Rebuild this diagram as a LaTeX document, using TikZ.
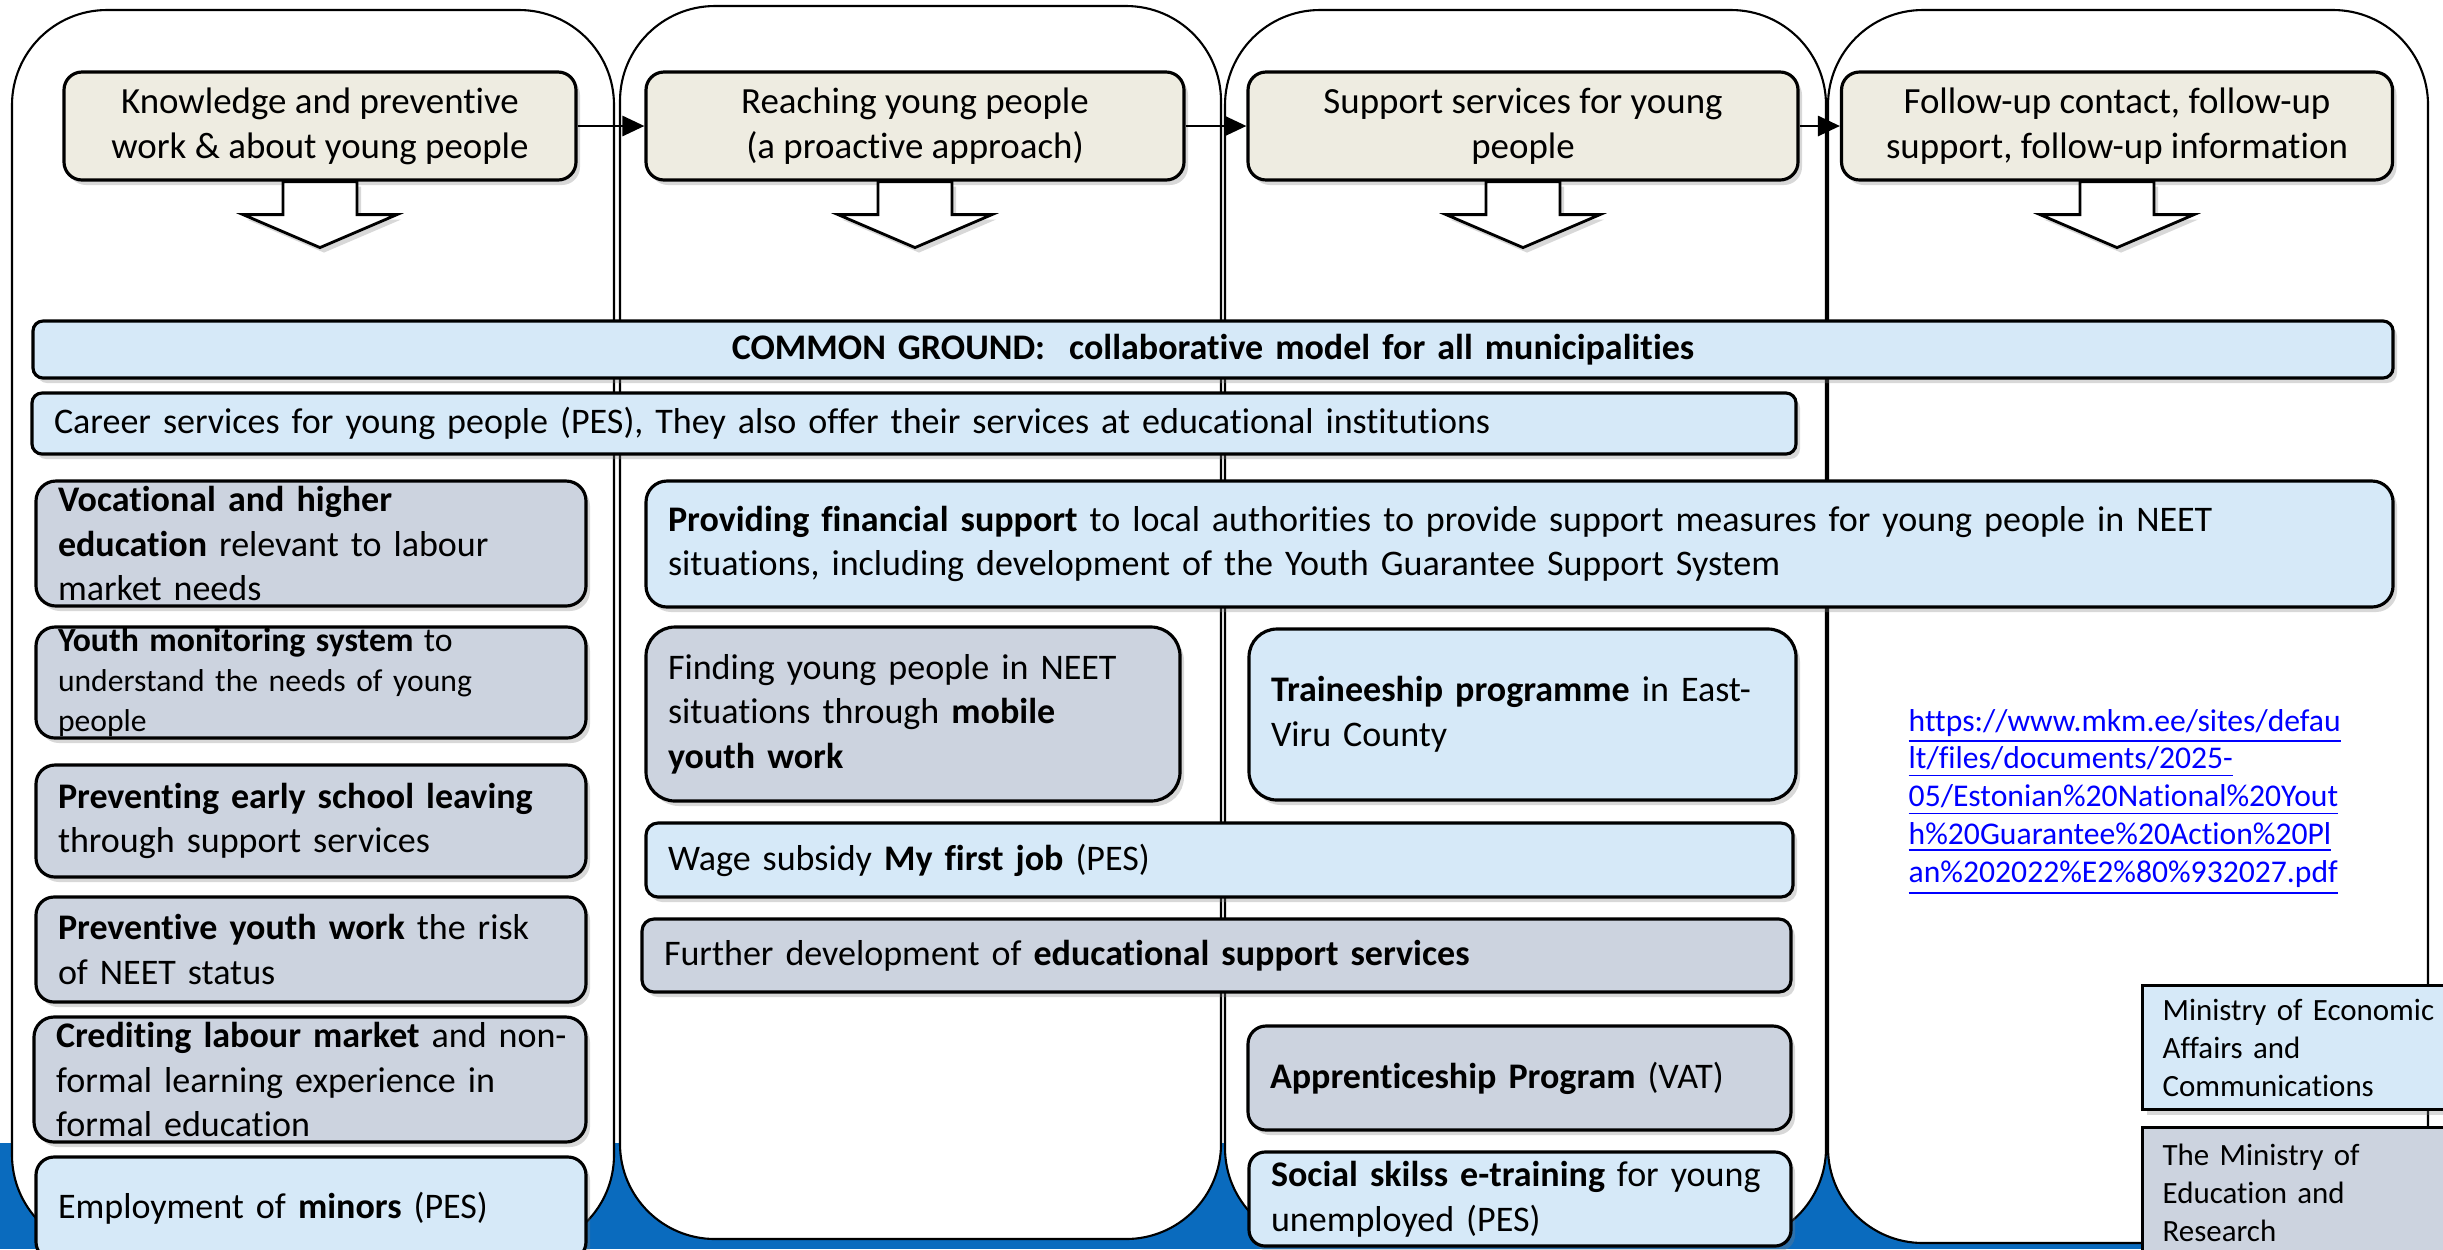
\documentclass[tikz,border=0pt]{standalone}
\usepackage{fontspec}
\setmainfont{Carlito}[Ligatures=NoCommon]
\usepackage{tikz}
\usetikzlibrary{arrows.meta,shadows}
\definecolor{stagefill}{HTML}{EEECE1}
\definecolor{paleblue}{HTML}{D6E9F8}
\definecolor{greyblue}{HTML}{CCD3DF}
\definecolor{bandblue}{HTML}{0A6BBE}
\definecolor{linkblue}{HTML}{0000FF}

\begin{document}
\begin{tikzpicture}[x=1cm,y=-1cm,font=\fontsize{10.25pt}{12.7pt}\selectfont,
    lane/.style={draw,line width=0.6pt,fill=white,rounded corners=0.95cm},
    softshadow/.style={drop shadow={shadow xshift=0.04cm,shadow yshift=-0.05cm,opacity=0.3}},
    stage/.style={draw,line width=0.9pt,fill=stagefill,rounded corners=0.18cm,align=center,softshadow,font=\fontsize{10.5pt}{12.8pt}\selectfont},
    cell/.style={draw,line width=0.9pt,inner xsep=0.22cm,inner ysep=0pt,align=left,softshadow},
    bluecell/.style={cell,fill=paleblue},
    greycell/.style={cell,fill=greyblue},
    ministry/.style={cell,rounded corners=0pt,anchor=north west,inner xsep=0.2cm,font=\fontsize{8.8pt}{10.8pt}\selectfont},
    blockarrow/.style={draw,line width=0.8pt,fill=white,line join=miter,softshadow}]
\clip (0,0) rectangle (24.43,12.49);
\fill[bandblue] (0,11.43) rectangle (24.43,12.49);
\draw[lane] (0.12,0.10) rectangle (6.14,12.50);
\draw[lane] (6.20,0.06) rectangle (12.21,12.39);
\draw[lane] (12.25,0.10) rectangle (18.26,12.43);
\draw[lane] (18.28,0.10) rectangle (24.28,12.43);

\draw (3.20,1.26) node[stage,minimum width=5.12cm,minimum height=1.08cm](knowledge) {Knowledge and preventive\\work \& about young people};
\draw (9.15,1.26) node[stage,minimum width=5.38cm,minimum height=1.08cm](reaching) {Reaching young people\\(a proactive approach)};
\draw (15.23,1.26) node[stage,minimum width=5.50cm,minimum height=1.08cm](support) {Support services for young\\people};
\draw (21.17,1.26) node[stage,minimum width=5.51cm,minimum height=1.08cm](followup) {Follow-up contact, follow-up\\support, follow-up information};
\draw[-{Triangle[length=0.22cm,width=0.2cm]},line width=0.8pt] (knowledge) -- (reaching);
\draw[-{Triangle[length=0.22cm,width=0.2cm]},line width=0.8pt] (reaching) -- (support);
\draw[-{Triangle[length=0.22cm,width=0.2cm]},line width=0.8pt] (support) -- (followup);
\draw[blockarrow] (knowledge.south) ++(-0.37,0) -- ++(0,0.33) -- ++(-0.40,0) -- ++(0.77,0.33) -- ++(0.77,-0.33) -- ++(-0.40,0) -- ++(0,-0.33) -- cycle;
\draw[blockarrow] (reaching.south) ++(-0.37,0) -- ++(0,0.33) -- ++(-0.40,0) -- ++(0.77,0.33) -- ++(0.77,-0.33) -- ++(-0.40,0) -- ++(0,-0.33) -- cycle;
\draw[blockarrow] (support.south) ++(-0.37,0) -- ++(0,0.33) -- ++(-0.40,0) -- ++(0.77,0.33) -- ++(0.77,-0.33) -- ++(-0.40,0) -- ++(0,-0.33) -- cycle;
\draw[blockarrow] (followup.south) ++(-0.37,0) -- ++(0,0.33) -- ++(-0.40,0) -- ++(0.77,0.33) -- ++(0.77,-0.33) -- ++(-0.40,0) -- ++(0,-0.33) -- cycle;

\draw (12.13,3.495) node[bluecell,text width=23.16cm,minimum height=0.57cm,rounded corners=0.1cm,align=center](common) {\textbf{COMMON GROUND:\ \ collaborative model for all municipalities}};
\draw (9.14,4.235) node[bluecell,text width=17.20cm,minimum height=0.61cm,rounded corners=0.1cm](career) {Career services for young people (PES), They also offer their services at educational institutions};

\draw (3.11,5.435) node[greycell,text width=5.06cm,minimum height=1.25cm,rounded corners=0.2cm](vocational) {\textbf{Vocational and higher}\\\textbf{education} relevant to labour\\market needs};
\draw (3.11,6.825) node[greycell,text width=5.06cm,minimum height=1.11cm,rounded corners=0.19cm,font=\fontsize{9pt}{11.4pt}\selectfont](monitoring) {{\fontsize{9.6pt}{11.4pt}\selectfont\textbf{Youth monitoring system} to}\\understand the needs of young\\people};
\draw (3.11,8.21) node[greycell,text width=5.06cm,minimum height=1.12cm,rounded corners=0.19cm](leaving) {\textbf{Preventing early school leaving}\\through support services};
\draw (3.11,9.495) node[greycell,text width=5.06cm,minimum height=1.05cm,rounded corners=0.18cm](prevwork) {\textbf{Preventive youth work} the risk\\of NEET status};
\draw (3.10,10.795) node[greycell,text width=5.08cm,minimum height=1.25cm,rounded corners=0.2cm](crediting) {\mbox{\textbf{Crediting labour market} and non-}\\formal learning experience in\\formal education};
\draw (3.11,12.085) node[bluecell,text width=5.06cm,minimum height=1.03cm,rounded corners=0.18cm](minors) {Employment of \textbf{minors} (PES)};

\draw (15.195,5.44) node[bluecell,text width=17.03cm,minimum height=1.26cm,rounded corners=0.21cm](funding) {\textbf{Providing financial support} to local authorities to provide support measures for young people in NEET\\situations, including development of the Youth Guarantee Support System};
\draw (9.13,7.14) node[greycell,text width=4.90cm,minimum height=1.74cm,rounded corners=0.29cm](mobile) {Finding young people in NEET\\situations through \textbf{mobile}\\\textbf{youth work}};
\draw (15.225,7.145) node[bluecell,text width=5.03cm,minimum height=1.71cm,rounded corners=0.28cm](trainee) {\mbox{\textbf{Traineeship programme} in East-}\\Viru County};
\draw (12.195,8.60) node[bluecell,text width=11.03cm,minimum height=0.74cm,rounded corners=0.12cm](wage) {Wage subsidy \textbf{My first job} (PES)};
\draw (12.165,9.555) node[greycell,text width=11.05cm,minimum height=0.73cm,rounded corners=0.12cm](further) {Further development of \textbf{educational support services}};
\draw (15.195,10.78) node[greycell,text width=4.99cm,minimum height=1.04cm,rounded corners=0.18cm](apprentice) {\textbf{Apprenticeship Program} (VAT)};
\draw (15.20,11.99) node[bluecell,text width=4.98cm,minimum height=0.94cm,rounded corners=0.16cm](skills) {\textbf{Social skilss e-training} for young\\unemployed (PES)};

\draw (19.08,8.02) node[anchor=west,inner sep=0pt,align=left,text=linkblue,font=\fontsize{9pt}{10.8pt}\selectfont](url) {\underline{https://www.mkm.ee/sites/defau}\\\underline{lt/files/documents/2025-}\\\underline{05/Estonian\%20National\%20Yout}\\\underline{h\%20Guarantee\%20Action\%20Pl}\\\underline{an\%202022\%E2\%80\%932027.pdf}};

\draw (21.41,9.84) node[ministry,fill=paleblue,text width=2.90cm,minimum height=1.24cm](mkm) {Ministry of Economic\\Affairs and\\Communications};
\draw (21.41,11.26) node[ministry,fill=greyblue,text width=2.90cm,minimum height=1.30cm](hm) {The Ministry of\\Education and\\Research};
\end{tikzpicture}
\end{document}
